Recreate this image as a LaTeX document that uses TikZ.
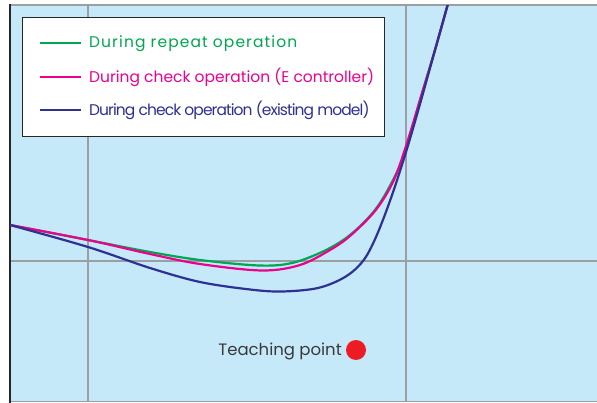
\documentclass[tikz,border=0pt]{standalone}
\usepackage{fontspec}
\setmainfont{Poppins}
\newfontfamily\legwide[LetterSpace=7]{Poppins}
\newfontfamily\legnarrow[LetterSpace=-6]{Poppins}
\definecolor{skyfill}{HTML}{C5E9F9}
\definecolor{gridgray}{HTML}{9A9FA3}
\definecolor{repgreen}{HTML}{00A651}
\definecolor{chkpink}{HTML}{EC008C}
\definecolor{oldblue}{HTML}{2E3192}
\definecolor{dotred}{HTML}{ED1C24}
\definecolor{labelgray}{HTML}{3A3A3C}
\begin{document}
\begin{tikzpicture}[x=1pt,y=-1pt,
  gridline/.style={draw=gridgray,line width=1.4pt},
  curve/.style={line width=2.2pt,smooth,tension=0.55},
  legtext/.style={anchor=west,inner sep=0pt,font=\fontsize{15.5}{17}\selectfont},
  legline/.style={line width=2.2pt}]
  \useasboundingbox[fill=white] (0,0) rectangle (597,403);
  % plotting area
  \fill[skyfill] (10,5) rectangle (597,402);
  \draw[gridline] (88,5) -- (88,402);
  \draw[gridline] (406,5) -- (406,402);
  \draw[gridline] (10,261) -- (597,261);
  \draw[gridgray,line width=2pt] (10,5) -- (597,5);
  \draw[gridgray,line width=1.6pt] (10,401.5) -- (597,401.5);
  \draw[black!85,line width=2pt] (10,4) -- (10,403);
  % trajectories
  \begin{scope}
    \clip (10,6) rectangle (597,401);
    \draw[curve,repgreen] plot coordinates {(10,225) (88,240) (150,252) (200,260)
      (259,265.5) (292,263) (324,251) (350,235) (375,210) (393,180) (406,150)
      (420,100) (435,50) (449,0)};
    \draw[curve,chkpink] plot coordinates {(10,225) (88,240) (150,254) (200,264)
      (262,270.5) (300,265) (330,250) (350,236) (375,211) (393,182) (406,146)
      (420,100) (435,50) (449,0)};
    \draw[curve,oldblue] plot coordinates {(10,225) (88,247) (150,268) (200,282)
      (250,289.5) (282,291.5) (318,288) (345,277) (363,261) (376,237) (391,198)
      (406,152) (420,104) (435,50) (449,0)};
  \end{scope}
  % legend
  \node[draw=black!85,fill=white,line width=1.2pt,minimum width=362pt,minimum height=119pt,
        anchor=north west,inner sep=0pt] (legend) at (22,17) {};
  \draw[legline,repgreen] (40,43) -- (81,43);
  \draw[legline,chkpink] (40,77) -- (81,77);
  \draw[legline,oldblue] (40,110) -- (81,110);
  \node[legtext,text=repgreen] (lgA) at (89,44) {\legwide During repeat operation};
  \node[legtext,text=chkpink] (lgB) at (89,77.5) {During check operation (E controller)};
  \node[legtext,text=oldblue] (lgC) at (89,110.5) {\legnarrow During check operation (existing model)};
  % teaching point marker
  \node[circle,fill=dotred,minimum size=20pt,inner sep=0pt] (tp) at (356,350) {};
  \node[anchor=east,inner sep=0pt,text=labelgray,font=\fontsize{16.5}{18}\selectfont] (tplabel) at (342,351) {Teaching point};
\end{tikzpicture}
\end{document}
